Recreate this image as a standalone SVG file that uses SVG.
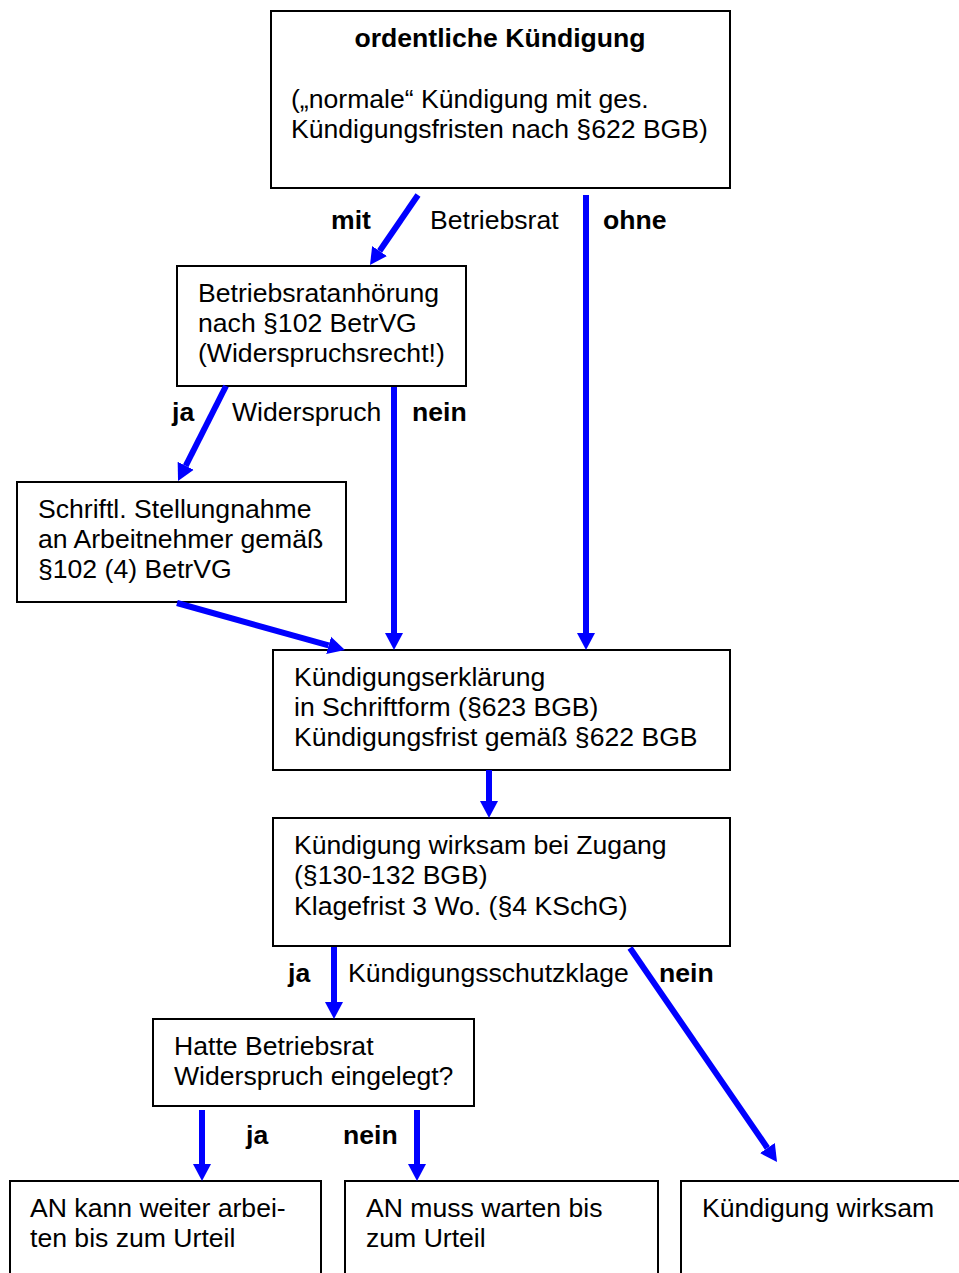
<svg xmlns="http://www.w3.org/2000/svg" width="959" height="1273" viewBox="0 0 959 1273">
<defs>
<style>
.box{fill:#fff;stroke:#000;stroke-width:2}
.t{font-family:"Liberation Sans",Arial,sans-serif;font-size:26.6px;fill:#000}
.b{font-weight:bold}
.c{stroke:#0000ff;stroke-width:6;fill:none;marker-end:url(#ah)}
</style>
<marker id="ah" markerUnits="userSpaceOnUse" markerWidth="19" markerHeight="20" viewBox="0 -10 19 20" refX="0" refY="0" orient="auto">
<path d="M0,-9 L17,0 L0,9 z" fill="#0000ff"/>
</marker>
</defs>
<rect width="959" height="1273" fill="#fff"/>
<g id="n1">
<rect class="box" x="271" y="11" width="459" height="177"/>
<text class="t b" x="500" y="47" text-anchor="middle">ordentliche Kündigung</text>
<text class="t" x="291" y="108">(„normale“ Kündigung mit ges.</text>
<text class="t" x="291" y="138">Kündigungsfristen nach §622 BGB)</text>
</g>
<g id="n2">
<rect class="box" x="177" y="266" width="289" height="120"/>
<text class="t" x="198" y="302">Betriebsratanhörung</text>
<text class="t" x="198" y="332">nach §102 BetrVG</text>
<text class="t" x="198" y="362">(Widerspruchsrecht!)</text>
</g>
<g id="n3">
<rect class="box" x="17" y="482" width="329" height="120"/>
<text class="t" x="38" y="518">Schriftl. Stellungnahme</text>
<text class="t" x="38" y="548">an Arbeitnehmer gemäß</text>
<text class="t" x="38" y="578">§102 (4) BetrVG</text>
</g>
<g id="n4">
<rect class="box" x="273" y="650" width="457" height="120"/>
<text class="t" x="294" y="686">Kündigungserklärung</text>
<text class="t" x="294" y="716">in Schriftform (§623 BGB)</text>
<text class="t" x="294" y="746">Kündigungsfrist gemäß §622 BGB</text>
</g>
<g id="n5">
<rect class="box" x="273" y="818" width="457" height="128"/>
<text class="t" x="294" y="854">Kündigung wirksam bei Zugang</text>
<text class="t" x="294" y="884">(§130-132 BGB)</text>
<text class="t" x="294" y="915">Klagefrist 3 Wo. (§4 KSchG)</text>
</g>
<g id="n6">
<rect class="box" x="153" y="1019" width="321" height="87"/>
<text class="t" x="174" y="1055">Hatte Betriebsrat</text>
<text class="t" x="174" y="1085">Widerspruch eingelegt?</text>
</g>
<g id="n7">
<rect class="box" x="10" y="1181" width="311" height="130"/>
<text class="t" x="30" y="1217">AN kann weiter arbei-</text>
<text class="t" x="30" y="1247">ten bis zum Urteil</text>
</g>
<g id="n8">
<rect class="box" x="345" y="1181" width="313" height="130"/>
<text class="t" x="366" y="1217">AN muss warten bis</text>
<text class="t" x="366" y="1247">zum Urteil</text>
</g>
<g id="n9">
<rect class="box" x="681" y="1181" width="320" height="130"/>
<text class="t" x="702" y="1217">Kündigung wirksam</text>
</g>
<g id="connectors">
<line class="c" x1="418" y1="195" x2="379.6" y2="251"/>
<line class="c" x1="586" y1="195" x2="586" y2="633"/>
<line class="c" x1="226" y1="386" x2="185.7" y2="465.8"/>
<line class="c" x1="394" y1="387" x2="394" y2="633"/>
<line class="c" x1="177" y1="603" x2="328.6" y2="645.4"/>
<line class="c" x1="489" y1="770" x2="489" y2="801"/>
<line class="c" x1="334" y1="947" x2="334" y2="1002"/>
<line class="c" x1="630" y1="948" x2="767.4" y2="1148"/>
<line class="c" x1="202" y1="1110" x2="202" y2="1164"/>
<line class="c" x1="417" y1="1110" x2="417" y2="1164"/>
<text class="t b" x="331" y="229">mit</text>
<text class="t" x="430" y="229">Betriebsrat</text>
<text class="t b" x="603" y="229">ohne</text>
<text class="t b" x="172" y="421">ja</text>
<text class="t" x="232" y="421">Widerspruch</text>
<text class="t b" x="412" y="421">nein</text>
<text class="t b" x="288" y="982">ja</text>
<text class="t" x="348" y="982">Kündigungsschutzklage</text>
<text class="t b" x="659" y="982">nein</text>
<text class="t b" x="246" y="1144">ja</text>
<text class="t b" x="343" y="1144">nein</text>
</g>
</svg>
